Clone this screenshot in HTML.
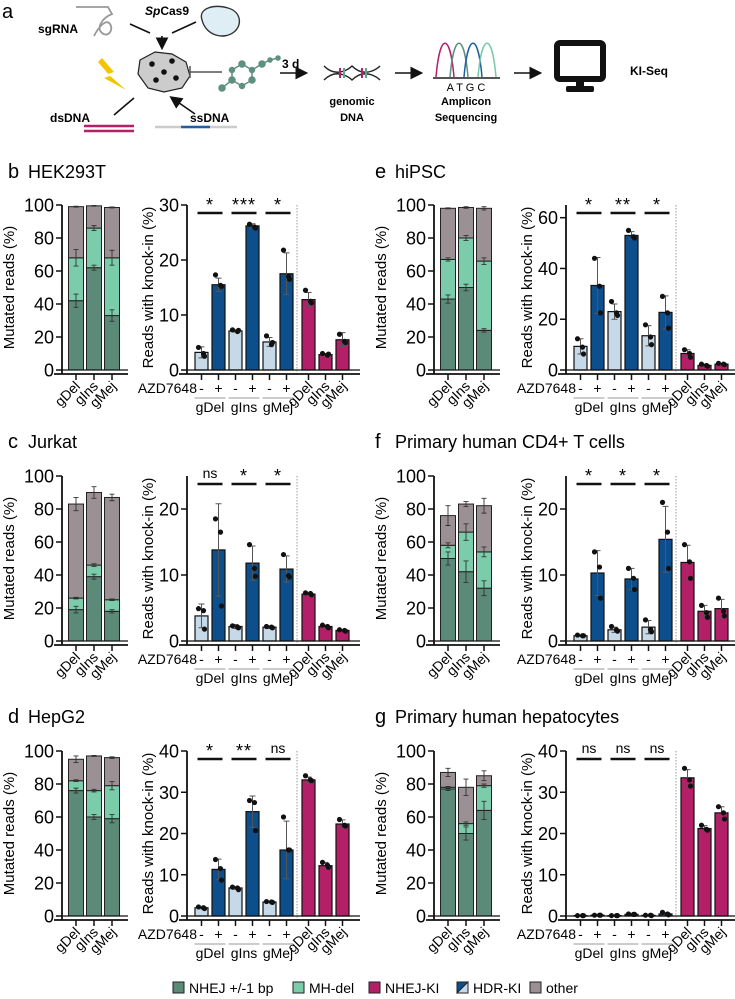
<!DOCTYPE html>
<html><head><meta charset="utf-8"><style>
html,body{margin:0;padding:0;background:#fff}
svg{display:block;font-family:"Liberation Sans",Arial,sans-serif}
</style></head><body>
<svg id="fig" width="735" height="999" viewBox="0 0 735 999" xmlns="http://www.w3.org/2000/svg">
<defs><marker id="ah" markerWidth="8" markerHeight="8" refX="6" refY="4" orient="auto"><path d="M0,0 L8,4 L0,8Z" fill="#111"/></marker></defs>
<g id="schematic">
<text x="2" y="18" font-size="20">a</text>
<text x="38" y="33" font-size="12" font-weight="bold">sgRNA</text>
<path d="M76 7 H108 L112 14 C102 18 96 28 102 33 C108 38 114 30 110 24 C106 18 98 28 94 36" fill="none" stroke="#999" stroke-width="1.8"/>
<text x="145" y="15" font-size="12" font-weight="bold"><tspan font-style="italic">Sp</tspan>Cas9</text>
<path d="M202 20 C198 8 214 4 228 8 C242 12 242 26 234 32 C224 40 206 36 202 20Z" fill="#dfeef5" stroke="#333" stroke-width="1.4"/>
<path d="M130 24 L150 33 M196 22 L172 33 M162 36 V47" stroke="#111" stroke-width="1.6" marker-end="url(#ah)"/>
<g>
<path d="M140 60 L155 52 L172 54 L186 62 L190 76 L182 88 L164 92 L148 88 L138 74Z" fill="#ccc" stroke="#222" stroke-width="1.2"/>
<circle cx="152" cy="64" r="2.8" fill="#111"/><circle cx="172" cy="61" r="2.8" fill="#111"/><circle cx="156" cy="80" r="2.8" fill="#111"/><circle cx="176" cy="78" r="2.8" fill="#111"/><circle cx="164" cy="72" r="2.8" fill="#111"/>
</g>
<path d="M102 58 L114 72 L108 74 L126 90 L104 78 L110 76 L98 62Z" fill="#f5c400"/>
<path d="M190 72 H222 M190 66 V78" stroke="#555" stroke-width="1.5"/>
<g stroke="#5e9080" stroke-width="1.5" fill="#5e9080">
<path d="M222 88 L232 80 L232 70 L242 64 L252 70 L252 80 L242 86 L232 80 M252 70 L262 64 L270 60 L278 58" fill="none"/>
<circle cx="222" cy="88" r="3"/><circle cx="232" cy="80" r="3"/><circle cx="232" cy="70" r="2.5"/><circle cx="242" cy="64" r="3"/><circle cx="252" cy="70" r="2.5"/><circle cx="252" cy="80" r="3"/><circle cx="242" cy="86" r="2.5"/><circle cx="262" cy="64" r="3"/><circle cx="270" cy="60" r="2"/><circle cx="278" cy="58" r="2"/>
</g>
<text x="282" y="68" font-size="12" font-weight="bold">3 d</text>
<path d="M280 73 H305" stroke="#111" stroke-width="1.6" marker-end="url(#ah)"/>
<path d="M324 66 C338 80 352 66 352 66 C366 80 380 66 380 66 M324 80 C338 66 352 80 352 80 C366 66 380 80 380 80" fill="none" stroke="#222" stroke-width="1.4"/>
<path d="M340 68 V78 M362 68 V78" stroke="#b5206a" stroke-width="2"/><path d="M344 68 V78 M366 68 V78" stroke="#5aa888" stroke-width="2"/>
<text x="352" y="105" font-size="11" font-weight="bold" text-anchor="middle"><tspan x="352">genomic</tspan><tspan x="352" dy="16">DNA</tspan></text>
<path d="M395 73 H420" stroke="#111" stroke-width="1.6" marker-end="url(#ah)"/>
<g fill="none" stroke-width="1.5">
<path d="M436 77 C440 32 450 32 454 77" stroke="#b5206a"/><path d="M450 77 C454 32 464 32 468 77" stroke="#5e9080"/><path d="M464 77 C468 32 478 32 482 77" stroke="#1f5fa0"/><path d="M478 77 C482 32 492 32 496 77" stroke="#78c8a8"/>
<path d="M433 78 H500" stroke="#555" stroke-width="2"/>
</g>
<text x="466" y="91" font-size="11" text-anchor="middle">A T G C</text>
<text x="466" y="105" font-size="11" font-weight="bold" text-anchor="middle"><tspan x="466">Amplicon</tspan><tspan x="466" dy="16">Sequencing</tspan></text>
<path d="M514 73 H539" stroke="#111" stroke-width="1.6" marker-end="url(#ah)"/>
<g><rect x="557" y="43" width="46" height="36" rx="3" fill="#fff" stroke="#111" stroke-width="6"/><rect x="576" y="81" width="8" height="7" fill="#111"/><rect x="566" y="86" width="28" height="6" rx="2" fill="#111"/></g>
<text x="630" y="75" font-size="12" font-weight="bold">KI-Seq</text>
<text x="50" y="122" font-size="12" font-weight="bold">dsDNA</text>
<text x="190" y="122" font-size="12" font-weight="bold">ssDNA</text>
<path d="M114 115 L134 98 M195 114 L172 98" stroke="#111" stroke-width="1.6" marker-end="url(#ah)"/>
<path d="M84 126 H134 M84 131 H134" stroke="#b5206a" stroke-width="2.5"/>
<path d="M155 127 H237" stroke="#ccc" stroke-width="2.5"/><path d="M181 127 H210" stroke="#1f5fa0" stroke-width="2.5"/>
</g>
<g id="charts"></g>
<g id="legend"></g>
</svg>
<script>
// ---- data ----
const panelIds = ['b','c','d','e','f','g'];
const panelTitles = ['HEK293T','Jurkat','HepG2','hiPSC','Primary human CD4+ T cells','Primary human hepatocytes'];
const guides = ['gDel','gIns','gMej'];
const nhejVals = [[42,62,33],[19,39,18],[76,60,59],[43,50,24],[50,42,32],[77,50,64]];
const mhCumVals = [[68,86,68],[26,46,25],[82,76,79],[67,80,66],[58,66,54],[78,56,79]];
const totalVals = [[99,99.5,98.5],[83,90,87],[95,97,96],[98,98.5,98],[76,83,82],[87,78,85]];
const nhejSd = [[4,1.5,3.5],[2,1.5,1],[1.5,1.5,2.5],[2.5,2,1],[4,6.5,4.5],[1,4,5.5]];
const mhSd = [[5,1.5,4.5],[0.5,0.8,0.5],[0.5,0.8,2.5],[1,1.5,2],[1.5,5,3],[0.5,1,1]];
const totSd = [[0.3,0.2,0.3],[4,3.5,2],[2,0.3,0.5],[0.3,0.5,1],[6,1.5,4.5],[2.5,5,3]];
const axisMax = [30,25,40,65,25,40];
const axisTicks = [[0,10,20,30],[0,10,20],[0,10,20,30,40],[0,20,40,60],[0,10,20],[0,10,20,30,40]];
const stackTicks = [0,20,40,60,80,100];
const minusVals = [[3.2,7.1,5.1],[3.8,2.2,2.1],[2.0,6.8,3.4],[9.3,23,13.5],[0.8,1.7,2.1],[0.1,0.1,0.15]];
const plusVals = [[15.5,26.2,17.5],[13.8,11.8,10.9],[11.3,25.3,16],[33.3,53,22.7],[10.3,9.4,15.4],[0.2,0.4,0.5]];
const pinkVals = [[12.8,2.8,5.5],[7.1,2.2,1.6],[33,12.2,22.3],[6.5,1.8,2.3],[11.9,4.5,4.9],[33.5,21.2,25]];
const minusSd = [[1,0.2,0.8],[1.8,0.3,0.2],[0.2,0.3,0.1],[3,3,4],[0.1,0.4,1],[0,0,0.1]];
const plusSd = [[1.2,0.4,3.8],[7,2.6,2],[2.5,3.8,7],[11,1.5,6.5],[3.4,1.6,5],[0.1,0.1,0.3]];
const pinkSd = [[1.3,0.2,1.3],[0.2,0.2,0.1],[0.7,0.8,1],[1.5,0.5,0.3],[2.6,0.9,1.4],[2,0.7,1.5]];
const minusPts = [[[4.1,3,2.5],[7.3,7,7.2],[6.2,4.6,5]],[[4.9,4.6,1.8],[2.3,2.1,2.0],[2.2,2.1,2.0]],[[2.2,2,1.8],[7,6.8,6.4],[3.5,3.4,3.3]],[[12.3,9,6.3],[27,22.5,21.5],[17.8,13,10]],[[0.9,0.8,0.8],[2.2,1.7,1.5],[3.2,1.8,1.4]],[[0.1,0.1,0.1],[0.1,0.1,0.1],[0.2,0.2,0.1]]];
const plusPts = [[[17.3,15.4,15.2],[26.5,26,25.8],[21.8,17,16.5]],[[18.5,16.5,5.3],[14.6,11,9.8],[13.1,9.9,9.7]],[[13.7,11.5,8.7],[28,27.5,20.7],[24,16,16]],[[44,33,22.5],[55,52.5,52],[29,22.5,16.5]],[[13.5,11.2,6.5],[11,9.5,7.8],[21,16.5,11]],[[0.2,0.2,0.2],[0.5,0.4,0.4],[0.9,0.5,0.3]]];
const pinkPts = [[[14.5,12.5,12.2],[3,2.7,2.9],[6.5,5.2,5]],[[7.3,7.2,7.0],[2.4,2.2,2.0],[1.7,1.6,1.5]],[[34,33,32.8],[13,12.3,11.8],[23.4,22,21.8]],[[8,6.5,5],[2.3,1.8,1.5],[2.6,2.3,2.1]],[[14.6,12,9.5],[5.4,4.3,3.6],[6.5,4.5,3.8]],[[35.8,33,31.5],[22,21,20.8],[26.5,25,23.5]]];
const sigLabels = [['*','***','*'],['ns','*','*'],['*','**','ns'],['*','**','*'],['*','*','*'],['ns','ns','ns']];

const C = {nhej:'#5b8a79', mh:'#7accaa', other:'#9b9094', pink:'#b32068', blue:'#0c4f8c', light:'#c6d9e8'};
const NS='http://www.w3.org/2000/svg';
const root=document.getElementById('charts');
function mk(tag,attrs,parent){const e=document.createElementNS(NS,tag);for(const k in attrs)e.setAttribute(k,attrs[k]);(parent||root).appendChild(e);return e;}
function txt(s,attrs,parent){const e=mk('text',attrs,parent);e.textContent=s;return e;}

const rowY0=[370,641,916], rowTitle=[178,448,723];
const colStackX=[62,434], colRightX=[187,566], colTitleX=[8,375];
const H=165;

panelIds.forEach((pid,p)=>{
  const col=p<3?0:1,row=p%3;
  const g=mk('g',{});
  
  
  const y0=rowY0[row];
  const t=txt(pid,{x:colTitleX[col],y:rowTitle[row],'font-size':20},g);
  
  
  const tt=txt(panelTitles[p],{x:colTitleX[col]+20,y:rowTitle[row],'font-size':18},g);
  
  
  // ---- stacked chart ----
  const ax=colStackX[col];
  const ys=v=>y0-v/100*H;
  const sg=mk('g',{},g);
  
  
  const yt=txt('Mutated reads (%)',{x:0,y:0,'font-size':15,'text-anchor':'middle',transform:`translate(${ax-48},${y0-H/2}) rotate(-90)`},sg);
  
  
  stackTicks.forEach(v=>{
    mk('line',{x1:ax-6,x2:ax,y1:ys(v),y2:ys(v),stroke:'#111','stroke-width':1.5},sg);
    const l=txt(String(v),{x:ax-8,y:ys(v)+6.5,'font-size':18,'text-anchor':'end'},sg);
    
    
  });
  guides.forEach((gname,i)=>{
    const cx=ax+14+i*18,w=15;
    const layers=[[0,nhejVals[p][i],C.nhej,nhejSd[p][i]],[nhejVals[p][i],mhCumVals[p][i],C.mh,mhSd[p][i]],[mhCumVals[p][i],totalVals[p][i],C.other,totSd[p][i]]];
    layers.forEach((L,k)=>{
      const r=mk('rect',{x:cx-w/2,y:ys(L[1]),width:w,height:ys(L[0])-ys(L[1]),fill:L[2],stroke:'#222','stroke-width':1},sg);
      
      
    });
    layers.forEach(L=>{
      const a=ys(L[1]+L[3]),b=ys(L[1]-L[3]);
      mk('path',{d:`M${cx} ${a}V${b}M${cx-2.5} ${a}H${cx+2.5}M${cx-2.5} ${b}H${cx+2.5}`,stroke:'#333','stroke-width':0.9,fill:'none'},sg);
    });
    mk('line',{x1:cx,x2:cx,y1:y0+4,y2:y0+10,stroke:'#111','stroke-width':1.5},sg);
    const lab=txt(gname,{x:0,y:0,'font-size':14,'text-anchor':'end',transform:`translate(${cx+5},${y0+17}) rotate(-45)`},sg);
    
    
  });
  mk('line',{x1:ax,x2:ax,y1:y0-H,y2:y0+4,stroke:'#111','stroke-width':1.8},sg);
  mk('line',{x1:ax,x2:ax+66,y1:y0,y2:y0,stroke:'#111','stroke-width':1.3},sg);
  mk('line',{x1:ax-8,x2:ax+66,y1:y0+4,y2:y0+4,stroke:'#111','stroke-width':1.8},sg);

  // ---- knock-in chart ----
  const rx=colRightX[col], M=axisMax[p];
  const yr=v=>y0-v/M*H;
  const kg=mk('g',{},g);
  
  
  const yt2=txt('Reads with knock-in  (%)',{x:0,y:0,'font-size':15,'text-anchor':'middle',transform:`translate(${rx-34},${y0-H/2}) rotate(-90)`},kg);
  
  
  axisTicks[p].forEach(v=>{
    mk('line',{x1:rx-6,x2:rx,y1:yr(v),y2:yr(v),stroke:'#111','stroke-width':1.5},kg);
    const l=txt(String(v),{x:rx-8,y:yr(v)+6.5,'font-size':18,'text-anchor':'end'},kg);
    
    
  });
  const sep=rx+110;
  mk('line',{x1:sep,x2:sep,y1:y0-H,y2:y0+4,stroke:'#999','stroke-width':1,'stroke-dasharray':'1.5,1.5'},kg);
  function bar(cx,val,sd,pts,fill,name){
    const w=13;
    const r=mk('rect',{x:cx-w/2,y:yr(val),width:w,height:Math.max(0.5,y0-yr(val)),fill:fill,stroke:'#111','stroke-width':1.2},kg);
    
    
    const a=yr(val+sd),b=yr(Math.max(0,val-sd));
    if(sd>0.05) mk('path',{d:`M${cx} ${a}V${b}M${cx-3} ${a}H${cx+3}M${cx-3} ${b}H${cx+3}`,stroke:'#555','stroke-width':1,fill:'none'},kg);
    pts.forEach((v,j)=>{
      const d=mk('circle',{cx:cx+[-3,0,3][j]*(j===1?0:1)+(j===1?2:0),cy:yr(v),r:2.6,fill:'#111'},kg);
      
      
    });
    mk('line',{x1:cx,x2:cx,y1:y0+4,y2:y0+10,stroke:'#111','stroke-width':1.5},kg);
  }
  guides.forEach((gname,i)=>{
    const c1=rx+14.5+i*34,c2=c1+17;
    bar(c1,minusVals[p][i],minusSd[p][i],minusPts[p][i],C.light,'hdr-bar-minus-'+gname);
    bar(c2,plusVals[p][i],plusSd[p][i],plusPts[p][i],C.blue,'hdr-bar-plus-'+gname);
    txt('-',{x:c1,y:y0+23,'font-size':14,'text-anchor':'middle'},kg);
    txt('+',{x:c2,y:y0+23,'font-size':14,'text-anchor':'middle'},kg);
    mk('line',{x1:c1-7,x2:c2+7,y1:y0+28,y2:y0+28,stroke:'#999','stroke-width':1},kg);
    const gl=txt(gname,{x:(c1+c2)/2,y:y0+42,'font-size':14,'text-anchor':'middle'},kg);
    
    
    const sy=y0-H+8;
    const sl=mk('line',{x1:c1-4,x2:c2+4,y1:sy,y2:sy,stroke:'#111','stroke-width':2.5},kg);
    
    
    const s=sigLabels[p][i];
    const st=txt(s,{x:(c1+c2)/2,y:s==='ns'?sy-6:sy-2,'font-size':s==='ns'?14:18,'text-anchor':'middle','letter-spacing':s==='ns'?0:1},kg);
    
    
    const cp=rx+121.5+i*17;
    bar(cp,pinkVals[p][i],pinkSd[p][i],pinkPts[p][i],C.pink,'nhej-ki-bar-'+gname);
    const pl=txt(gname,{x:0,y:0,'font-size':14,'text-anchor':'end',transform:`translate(${cp+5},${y0+17}) rotate(-45)`},kg);
    
    
  });
  const az=txt('AZD7648',{x:rx+10,y:y0+23,'font-size':14,'text-anchor':'end'},kg);
  
  
  mk('line',{x1:rx,x2:rx,y1:y0-H,y2:y0+4,stroke:'#111','stroke-width':1.8},kg);
  mk('line',{x1:rx,x2:rx+173,y1:y0,y2:y0,stroke:'#111','stroke-width':1.3},kg);
  mk('line',{x1:rx-8,x2:rx+173,y1:y0+4,y2:y0+4,stroke:'#111','stroke-width':1.8},kg);
});

// legend
const legNames=['NHEJ +/-1 bp','MH-del','NHEJ-KI','HDR-KI','other'];
const legX=[173,293,369,457,530];
const legColors=[C.nhej,C.mh,C.pink,C.blue,C.other];
const lg=document.getElementById('legend');
legNames.forEach((n,i)=>{
  const it=mk('g',{},lg);
  
  
  mk('rect',{x:legX[i],y:982,width:11,height:11,fill:legColors[i],stroke:'#222','stroke-width':1},it);
  if(n==='HDR-KI') mk('path',{d:`M${legX[i]+11} 982 L${legX[i]} 993 H${legX[i]+11}Z`,fill:C.light,stroke:'#222','stroke-width':1},it);
  txt(n,{x:legX[i]+16,y:993,'font-size':14},it);
});
</script>
</body></html>
